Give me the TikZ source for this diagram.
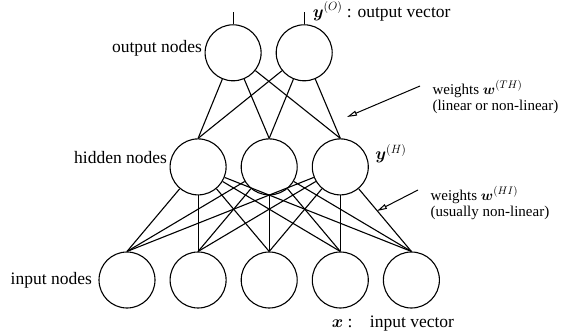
\documentclass[tikz,border=0pt]{standalone}
\usepackage{amsmath}
\usepackage{amssymb}
\usepackage{fontspec}
\setmainfont{Liberation Serif}
\usetikzlibrary{positioning}
\usetikzlibrary{arrows.meta}

\begin{document}
\begin{tikzpicture}[x=1pt, y=1pt, line width=1.1pt,
    neuron/.style={circle, draw, minimum size=56pt, inner sep=0pt},
    lbl/.style={inner sep=0pt, font=\fontsize{17.5}{19}\selectfont},
    wlbl/.style={inner sep=0pt, align=left, font=\fontsize{15}{16}\selectfont},
    pointer/.style={-{Triangle[open, length=10pt, width=5pt]}, line width=1pt}]

    \useasboundingbox (-127,-54) rectangle (442,280);

    % input layer
    \node[neuron] (i1) {};
    \node[neuron, right=14pt of i1] (i2) {};
    \node[neuron, right=14pt of i2] (i3) {};
    \node[neuron, right=14pt of i3] (i4) {};
    \node[neuron, right=14pt of i4] (i5) {};

    % hidden layer
    \node[neuron, above=56pt of i2] (h1) {};
    \node[neuron, right=14pt of h1] (h2) {};
    \node[neuron, right=14pt of h2] (h3) {};

    % output layer
    \node[neuron, above=57pt of h1, xshift=35pt] (o1) {};
    \node[neuron, right=14pt of o1] (o2) {};
    \coordinate[above=12pt of o1.north] (t1);
    \coordinate[above=12pt of o2.north] (t2);

    \draw (o1.north) -- (t1);
    \draw (o2.north) -- (t2);
    \foreach \h in {1,2,3} {
        \foreach \o in {1,2}
            \draw (o\o) -- (h\h.north);
        \foreach \i in {1,...,5}
            \draw (h\h) -- (i\i.north);
    }

    \node[lbl, left=6pt of i1] (lin) {input nodes};
    \node[lbl, left=2pt of h1, yshift=9pt] (lhid) {hidden nodes};
    \node[lbl, left=2pt of o1, yshift=5pt] (lout) {output nodes};

    \node[lbl, anchor=base west] (yo) at ([xshift=8pt, yshift=-5pt]t2) {$\boldsymbol{y}^{(O)}$ : output vector};
    \node[lbl, right=6pt of h3, yshift=13pt] (yh) {$\boldsymbol{y}^{(H)}$};
    \node[lbl, anchor=west] (xin) at ([xshift=-9pt, yshift=-15pt]i4.south) {$\boldsymbol{x}$ :\quad input vector};

    \node[wlbl, anchor=west] (wth) at (305,183) {weights $\boldsymbol{w}^{(TH)}$\\(linear or non-linear)};
    \node[wlbl, anchor=west] (whi) at (303,77) {weights $\boldsymbol{w}^{(HI)}$\\(usually non-linear)};

    \coordinate (ath) at (220,163);
    \coordinate (ahi) at (250,69);
    \draw[pointer] ([xshift=-12pt, yshift=11pt]wth.west) -- (ath);
    \draw[pointer] ([xshift=-12pt, yshift=13pt]whi.west) -- (ahi);
\end{tikzpicture}
\end{document}
